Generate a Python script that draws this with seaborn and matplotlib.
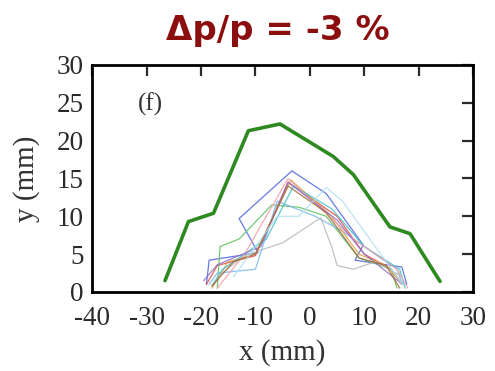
import matplotlib
matplotlib.use("Agg")
import matplotlib.pyplot as plt
import seaborn as sns
import pandas as pd

# Envelope (thick green)
env_x = [-26.6, -22.3, -17.7, -11.3, -5.5, 4.3, 8.0, 14.7, 18.4, 23.9]
env_y = [1.5, 9.3, 10.4, 21.3, 22.2, 17.9, 15.5, 8.6, 7.7, 1.4]

# Individual thin traces
tr_blue_x = [-19.0, -18.5, -9.5, -13.0, -3.3, 3.0, 9.8, 8.3, 16.9, 17.8]
tr_blue_y = [1.0, 4.2, 5.2, 9.7, 16.0, 13.0, 6.2, 4.2, 3.3, 1.0]
tr_red_x = [-19.0, -17.0, -10.0, -4.0, 5.0, 10.0, 15.0, 17.0]
tr_red_y = [1.0, 3.5, 4.8, 14.5, 10.0, 5.0, 3.0, 1.0]
tr_green_x = [-17.0, -16.5, -13.0, -7.0, -2.0, 3.0, 9.0, 15.0, 16.0]
tr_green_y = [0.5, 6.0, 7.0, 11.5, 11.2, 10.0, 4.5, 3.0, 0.5]
tr_sky_x = [-18.5, -17.0, -10.0, -6.0, 1.0, 6.0, 12.0, 16.0, 17.0]
tr_sky_y = [1.0, 2.5, 3.0, 12.0, 10.0, 8.0, 5.0, 3.0, 1.0]
tr_orange_x = [-18.0, -15.0, -10.0, -3.5, 4.0, 9.0, 14.0, 17.0]
tr_orange_y = [0.5, 4.0, 5.0, 14.8, 10.0, 5.0, 3.5, 1.0]
tr_cyan_x = [-18.0, -16.0, -8.0, -3.0, 4.0, 10.0, 16.5, 17.5]
tr_cyan_y = [0.8, 3.0, 7.0, 14.0, 11.0, 6.0, 3.0, 0.5]
tr_pink_x = [-17.0, -12.0, -4.0, 8.0, 16.0, 18.0]
tr_pink_y = [0.5, 5.0, 15.0, 7.0, 3.0, 0.5]
tr_purple_x = [-19.5, -17.0, -9.0, -4.0, 5.0, 10.0, 17.0]
tr_purple_y = [1.5, 3.6, 6.0, 14.5, 9.5, 5.0, 1.0]
tr_gray_x = [-17.0, -12.0, -5.0, 2.0, 4.0, 5.0, 8.0, 12.0, 17.0]
tr_gray_y = [2.0, 4.8, 6.5, 9.8, 6.0, 3.5, 3.0, 4.0, 2.0]
tr_brown_x = [-18.0, -14.0, -10.0, -4.0, 3.0, 9.0, 14.0, 16.5]
tr_brown_y = [0.8, 4.0, 5.0, 14.0, 10.5, 4.5, 3.5, 0.5]
tr_pale_x = [-14.0, -13.0, -6.0, -2.0, 3.0, 6.0, 14.0, 17.0]
tr_pale_y = [2.0, 3.0, 10.0, 10.0, 13.8, 12.0, 4.0, 1.0]

traces = [
    (tr_blue_x, tr_blue_y, "#4a62e0"),
    (tr_red_x, tr_red_y, "#e04848"),
    (tr_green_x, tr_green_y, "#5cc05c"),
    (tr_sky_x, tr_sky_y, "#7ab8f0"),
    (tr_orange_x, tr_orange_y, "#e0a040"),
    (tr_cyan_x, tr_cyan_y, "#40c0c8"),
    (tr_pink_x, tr_pink_y, "#f0a0a8"),
    (tr_purple_x, tr_purple_y, "#9070c8"),
    (tr_gray_x, tr_gray_y, "#b8b8b8"),
    (tr_brown_x, tr_brown_y, "#a06838"),
    (tr_pale_x, tr_pale_y, "#b0e0f0"),
]

x_ticks = [-40, -30, -20, -10, 0, 10, 20, 30]
x_tick_labels = ["-40", "-30", "-20", "-10", "0", "10", "20", "30"]
y_ticks = [0, 5, 10, 15, 20, 25, 30]
y_tick_labels = ["0", "5", "10", "15", "20", "25", "30"]

sns.set_style("white")
plt.rcParams["font.family"] = ["Liberation Serif", "DejaVu Serif"]

fig = plt.figure(figsize=(4.95, 3.71), dpi=100)
ax = fig.add_axes([0.186, 0.213, 0.770, 0.612])

for tx, ty, col in traces:
    df = pd.DataFrame({"x": tx, "y": ty})
    sns.lineplot(data=df, x="x", y="y", sort=False, estimator=None, ax=ax,
                 color=col, lw=0.9, alpha=0.85)

dfe = pd.DataFrame({"x": env_x, "y": env_y})
sns.lineplot(data=dfe, x="x", y="y", sort=False, estimator=None, ax=ax,
             color="#2e8a20", lw=2.6)

ax.set_xlim(-40, 30)
ax.set_ylim(0, 30)
ax.set_xticks(x_ticks)
ax.set_xticklabels(x_tick_labels)
ax.set_yticks(y_ticks)
ax.set_yticklabels(y_tick_labels)
ax.tick_params(direction="in", length=8, width=1.6, top=True, right=True,
               labelsize=19.5, colors="#2a2a2a")
ax.tick_params(axis="x", pad=10)
ax.tick_params(axis="y", pad=6)
for s in ax.spines.values():
    s.set_linewidth(2)
    s.set_color("black")
    s.set_visible(True)
ax.set_xlabel("x (mm)", fontsize=21, color="#333333", labelpad=6)
ax.set_ylabel("y (mm)", fontsize=21, color="#333333", labelpad=12)
ax.text(-29.2, 24.8, "(f)", fontsize=18, color="#333333", ha="center", va="center")

fig.text(0.562, 0.892, "\u0394p/p = -3 %", fontsize=24.5, fontweight="bold",
         color="#8b0f0f", ha="center", va="baseline",
         family=["DejaVu Sans"])

fig.savefig("out.png", dpi=100)
